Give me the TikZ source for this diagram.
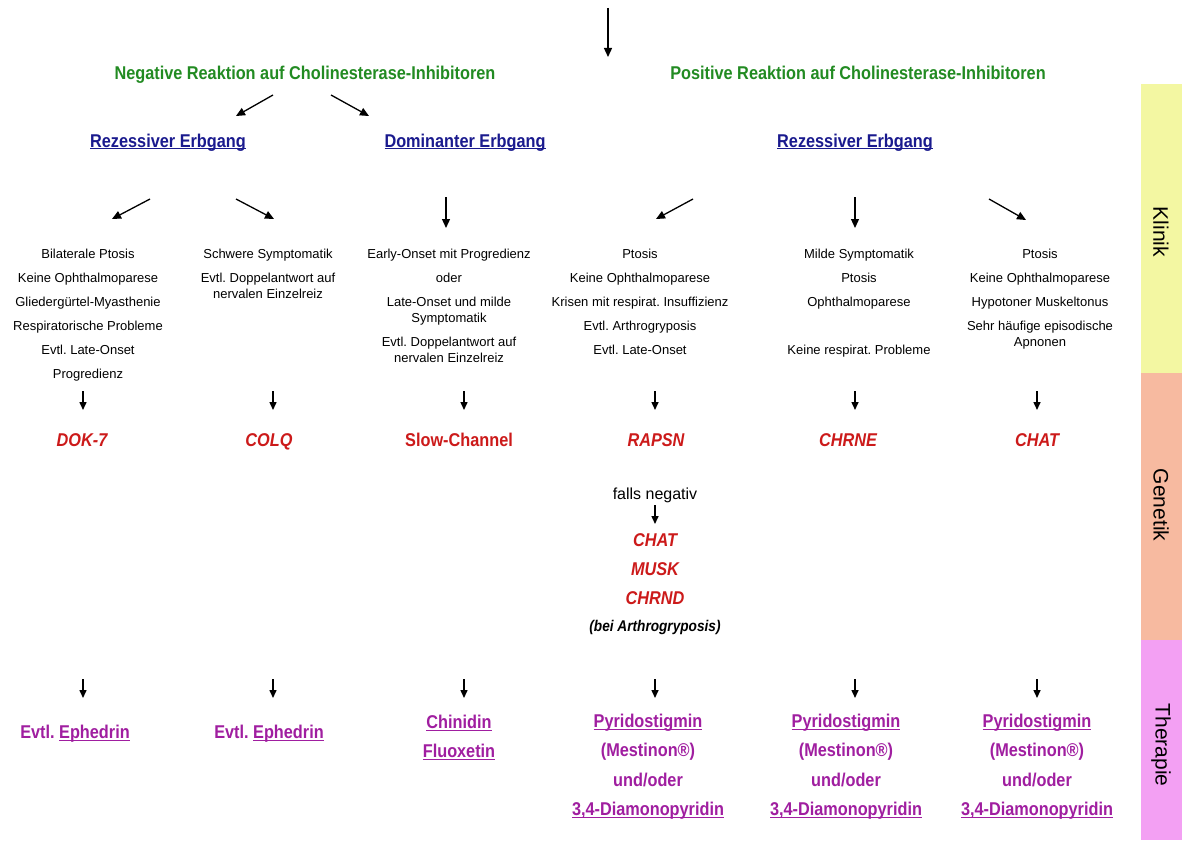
\documentclass[tikz,border=0pt]{standalone}
\usepackage{fontspec}
\setmainfont{Liberation Sans}
\newfontfamily\nfont[FakeStretch=0.88]{Liberation Sans}
\usetikzlibrary{arrows.meta}
\frenchspacing
\newcommand\uln[1]{\leavevmode\setbox0\hbox{#1}\rlap{\rule[-2.4pt]{\wd0}{1.3pt}}\box0}
\definecolor{hgreen}{HTML}{228B22}
\definecolor{hblue}{HTML}{1A1A8E}
\definecolor{hred}{HTML}{CC1A1A}
\definecolor{hpurple}{HTML}{A01EA0}
\definecolor{barY}{HTML}{F3F7A2}
\definecolor{barS}{HTML}{F7BAA0}
\definecolor{barP}{HTML}{F3A0F3}
\tikzset{
  arr/.style={-{Triangle[length=9pt,width=8pt]}, line width=1.3pt},
  sarr/.style={-{Triangle[length=8pt,width=7pt]}, line width=1.5pt},
  hdr/.style={font=\nfont\bfseries\fontsize{18.5}{22}\selectfont, inner sep=0pt, anchor=base},
  neghdr/.style={hdr, text=hgreen},
  erb/.style={hdr, text=hblue},
  clin/.style={font=\fontsize{13}{16}\selectfont, align=center, anchor=north, inner sep=0pt},
  gene/.style={font=\nfont\bfseries\itshape\fontsize{18.5}{22}\selectfont, text=hred, inner sep=0pt, anchor=base},
  ther/.style={font=\nfont\bfseries\fontsize{18.5}{29.5}\selectfont, text=hpurple, align=center, anchor=north, inner sep=0pt},
  sidelbl/.style={font=\fontsize{21}{24}\selectfont, rotate=-90, inner sep=0pt},
}
\begin{document}
\begin{tikzpicture}[x=1pt,y=-1pt]
\useasboundingbox[fill=white] (0,0) rectangle (1182,840);
% side bar
\fill[barY] (1141,84) rectangle (1182,373);
\fill[barS] (1141,373) rectangle (1182,640);
\fill[barP] (1141,640) rectangle (1182,840);
\node[sidelbl] (klinik) at (1161,232) {Klinik};
\node[sidelbl] (genetik) at (1161,505) {Genetik};
\node[sidelbl] (therapie) at (1161,745) {Therapie};

% headings
\node[neghdr] (neg) at (305,80) {Negative Reaktion auf Cholinesterase-Inhibitoren};
\node[neghdr] (pos) at (858,80) {Positive Reaktion auf Cholinesterase-Inhibitoren};
\node[erb] (rez1) at (168,147) {\uln{Rezessiver Erbgang}};
\node[erb] (dom) at (465,147) {\uln{Dominanter Erbgang}};
\node[erb] (rez2) at (855,147) {\uln{Rezessiver Erbgang}};

% clinical columns
\node[clin] (k1) at (88,248.4) {Bilaterale Ptosis\\[8pt]Keine Ophthalmoparese\\[8pt]Gliedergürtel-Myasthenie\\[8pt]Respiratorische Probleme\\[8pt]Evtl. Late-Onset\\[8pt]Progredienz};
\node[clin] (k2) at (268,248.4) {Schwere Symptomatik\\[8pt]Evtl. Doppelantwort auf\\nervalen Einzelreiz};
\node[clin] (k3) at (449,248.4) {Early-Onset mit Progredienz\\[8pt]oder\\[8pt]Late-Onset und milde\\Symptomatik\\[8pt]Evtl. Doppelantwort auf\\nervalen Einzelreiz};
\node[clin] (k4) at (640,248.4) {Ptosis\\[8pt]Keine Ophthalmoparese\\[8pt]Krisen mit respirat. Insuffizienz\\[8pt]Evtl. Arthrogryposis\\[8pt]Evtl. Late-Onset};
\node[clin] (k5) at (859,248.4) {Milde Symptomatik\\[8pt]Ptosis\\[8pt]Ophthalmoparese\\[32pt]Keine respirat. Probleme};
\node[clin] (k6) at (1040,248.4) {Ptosis\\[8pt]Keine Ophthalmoparese\\[8pt]Hypotoner Muskeltonus\\[8pt]Sehr häufige episodische\\Apnonen};

% genes
\node[gene] (g1) at (82,446.7) {DOK-7};
\node[gene] (g2) at (269,446.7) {COLQ};
\node[gene, font=\nfont\bfseries\fontsize{18.5}{22}\selectfont] (g3) at (459,446.7) {Slow-Channel};
\node[gene] (g4) at (656,446.7) {RAPSN};
\node[gene] (g5) at (848,446.7) {CHRNE};
\node[gene] (g6) at (1037,446.7) {CHAT};
\node[font=\fontsize{16}{19}\selectfont, inner sep=0pt, anchor=base] (fn) at (655,499.8) {falls negativ};
\node[gene] (g7) at (655,546.7) {CHAT};
\node[gene] (g8) at (655,575.7) {MUSK};
\node[gene] (g9) at (655,604.7) {CHRND};
\node[font=\nfont\bfseries\itshape\fontsize{15.5}{18}\selectfont, inner sep=0pt, anchor=base] (bei) at (655,631.4) {(bei Arthrogryposis)};

% therapy
\node[ther] (t1) at (75,724.8) {Evtl. \uln{Ephedrin}};
\node[ther] (t2) at (269,724.8) {Evtl. \uln{Ephedrin}};
\node[ther] (t3) at (459,714.8) {\uln{Chinidin}\\\uln{Fluoxetin}};
\node[ther] (t4) at (648,713.8) {\uln{Pyridostigmin}\\(Mestinon®)\\und/oder\\\uln{3,4-Diamonopyridin}};
\node[ther] (t5) at (846,713.8) {\uln{Pyridostigmin}\\(Mestinon®)\\und/oder\\\uln{3,4-Diamonopyridin}};
\node[ther] (t6) at (1037,713.8) {\uln{Pyridostigmin}\\(Mestinon®)\\und/oder\\\uln{3,4-Diamonopyridin}};

% connectors
\foreach \n/\xa/\ya/\xb/\yb in {top/608/8/608/57, n1/273/95/236/116, n2/331/95/369/116,
  c1/150/199/112/219, c2/236/199/274/219, c3/446/197/446/228, c4/693/199/656/219, c5/855/197/855/228, c6/989/199/1026/220}{
  \coordinate (s\n) at (\xa,\ya);
  \coordinate (e\n) at (\xb,\yb);
  \draw[arr] (s\n) -- (e\n);
}
\foreach \n/\xx in {1/83, 2/273, 3/464, 4/655, 5/855, 6/1037}{
  \coordinate (gs\n) at (\xx,391);
  \coordinate (ge\n) at (\xx,410);
  \draw[sarr] (gs\n) -- (ge\n);
  \coordinate (ts\n) at (\xx,679);
  \coordinate (te\n) at (\xx,698);
  \draw[sarr] (ts\n) -- (te\n);
}
\coordinate (fs) at (655,505);
\coordinate (fe) at (655,524);
\draw[sarr] (fs) -- (fe);
\end{tikzpicture}
\end{document}
